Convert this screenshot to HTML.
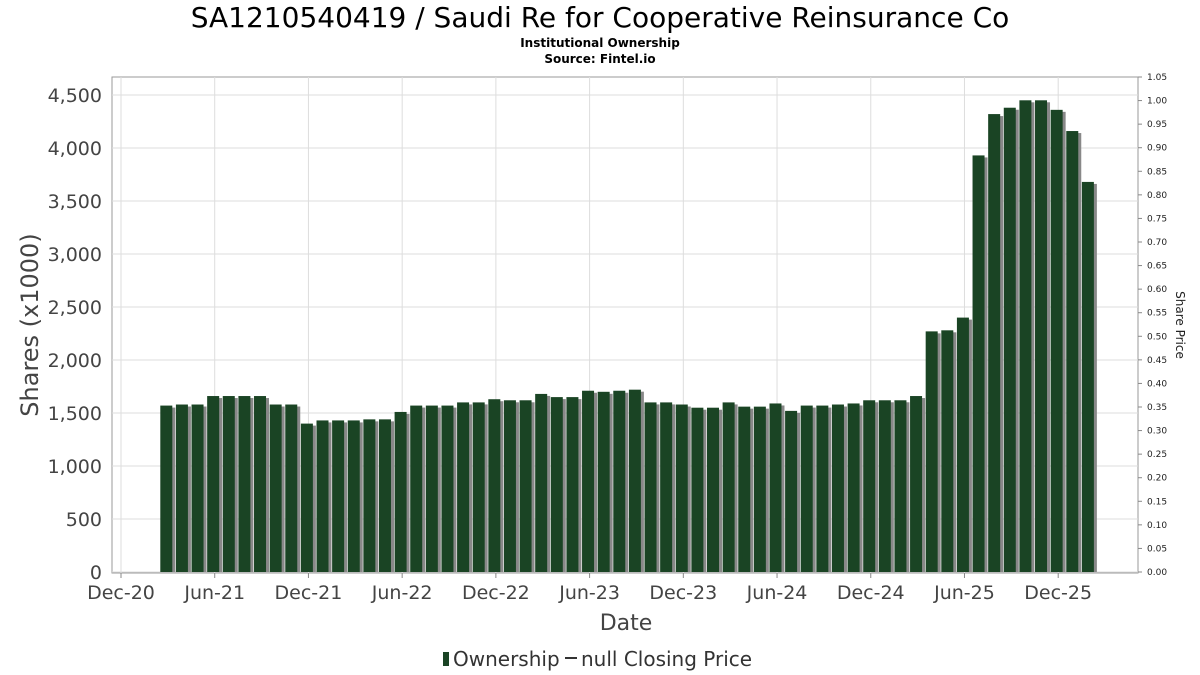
<!DOCTYPE html>
<html><head><meta charset="utf-8"><style>
body{margin:0;background:#fff;}
svg{display:block;font-family:"DejaVu Sans","Liberation Sans",sans-serif;}
</style></head><body>
<svg id="chart" width="1200" height="675">
<text x="600" y="27" font-size="28" text-anchor="middle" fill="#000">SA1210540419 / Saudi Re for Cooperative Reinsurance Co</text>
<text x="600" y="47" font-size="12" font-weight="bold" text-anchor="middle">Institutional Ownership</text>
<text x="600" y="63" font-size="12" font-weight="bold" text-anchor="middle">Source: Fintel.io</text>
<rect x="112" y="77" width="1026" height="496" fill="#fff" stroke="#999"/>
<g id="grid"></g><g id="bars"></g><g id="axes"></g>
<text transform="translate(38,325) rotate(-90)" font-size="24" text-anchor="middle" fill="#444">Shares (x1000)</text>
<text transform="translate(1176,325) rotate(90)" font-size="12" text-anchor="middle" fill="#222">Share Price</text>
<text x="626" y="630" font-size="22" text-anchor="middle" fill="#444">Date</text>
<g>
<rect x="443" y="652" width="6" height="14" fill="#1a4424"/>
<text x="453" y="666" font-size="20" fill="#333">Ownership</text>
<line x1="565" y1="658" x2="577" y2="658" stroke="#333" stroke-width="2"/>
<text x="581" y="666" font-size="20" fill="#333">null Closing Price</text>
</g>
</svg>
<script>
const xLabels=["Dec-20","Jun-21","Dec-21","Jun-22","Dec-22","Jun-23","Dec-23","Jun-24","Dec-24","Jun-25","Dec-25"];
const yTicks=[0,500,1000,1500,2000,2500,3000,3500,4000,4500];
const priceTicks=[0,0.05,0.10,0.15,0.20,0.25,0.30,0.35,0.40,0.45,0.50,0.55,0.60,0.65,0.70,0.75,0.80,0.85,0.90,0.95,1.00,1.05];
const startMonth=3; // Mar-21, months after Dec-20
const ownership=[1570,1580,1580,1660,1660,1660,1660,1580,1580,1400,1430,1430,1430,1440,1440,1510,1570,1570,1570,1600,1600,1630,1620,1620,1680,1650,1650,1710,1700,1710,1720,1600,1600,1580,1550,1550,1600,1560,1560,1590,1520,1570,1570,1580,1590,1620,1620,1620,1660,2270,2280,2400,3930,4320,4380,4450,4450,4360,4160,3680];
const NS="http://www.w3.org/2000/svg";
const xs=m=>121+m*15.62;
const ys=v=>572-v*0.106;
const yp=p=>572-p*(495/1.05);
function mk(t,a,parent){const e=document.createElementNS(NS,t);for(const k in a)e.setAttribute(k,a[k]);parent.appendChild(e);return e;}
const grid=document.getElementById('grid'),axes=document.getElementById('axes'),bars=document.getElementById('bars');
yTicks.forEach(v=>{
 const l=mk('line',{x1:112,x2:1138,y1:ys(v),y2:ys(v),stroke:'#ddd'},grid);
 
 
 const t=mk('text',{x:102,y:ys(v)+7,'font-size':19,'text-anchor':'end',fill:'#444'},axes);
 t.textContent=v.toLocaleString('en-US');
 
 
});
xLabels.forEach((s,i)=>{
 const x=xs(i*6);
 const l=mk('line',{x1:x,x2:x,y1:77,y2:573,stroke:'#ddd'},grid);
 
 
 mk('line',{x1:x,x2:x,y1:573,y2:578,stroke:'#888'},axes);
 const t=mk('text',{x:x,y:599,'font-size':19,'text-anchor':'middle',fill:'#444'},axes);
 t.textContent=s;
 
 
});
priceTicks.forEach(p=>{
 mk('line',{x1:1138,x2:1142,y1:yp(p),y2:yp(p),stroke:'#888'},axes);
 const t=mk('text',{x:1147,y:yp(p)+3,'font-size':9,fill:'#222'},axes);
 t.textContent=p.toFixed(2);
 
 
});
ownership.forEach((v,i)=>{
 const cx=xs(startMonth+i-0.1);
 const s=mk('rect',{x:cx-6+3,y:ys(v)+2,width:12,height:572-ys(v)-2,fill:'#888'},bars);
 
 
 const r=mk('rect',{x:cx-6,y:ys(v),width:12,height:572-ys(v),fill:'#1a4424'},bars);
 
 
});
</script>
</body></html>
